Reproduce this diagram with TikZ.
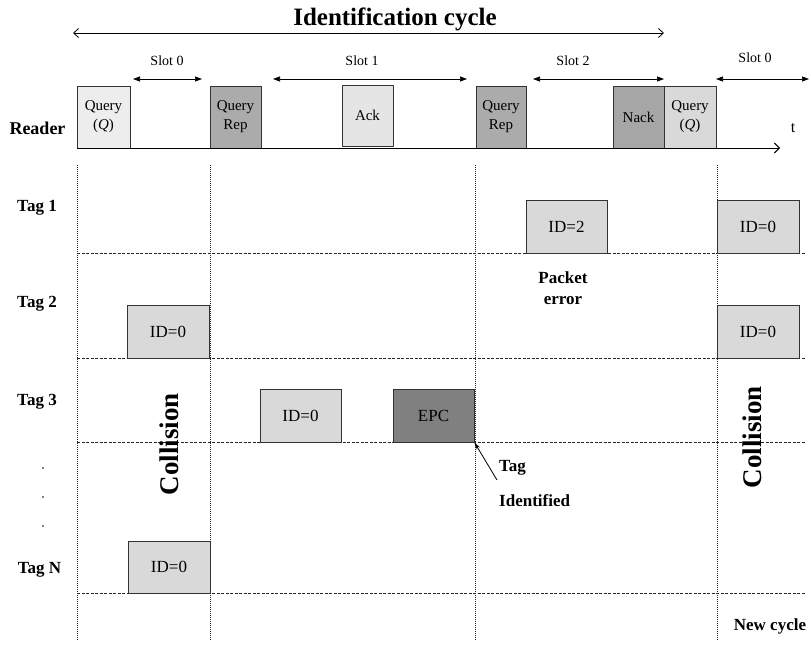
\documentclass[tikz,border=0pt]{standalone}
\usepackage{fontspec}
\setmainfont{Liberation Serif}
\usetikzlibrary{arrows.meta}
\begin{document}
\begin{tikzpicture}[x=1pt,y=-1pt,
  box/.style={draw=black!80, line width=0.9pt, inner sep=0pt, align=center, font=\fontsize{15}{19}\selectfont},
  idbox/.style={box, minimum width=81pt, minimum height=53pt, fill=black!15, font=\fontsize{17}{19}\selectfont},
  rbox/.style={box, minimum width=51pt, minimum height=62pt},
  lbl/.style={font=\bfseries\fontsize{17}{21}\selectfont, inner sep=0pt, align=center},
  slotlbl/.style={font=\fontsize{14}{16}\selectfont, inner sep=0pt},
  vgrid/.style={dash pattern=on 1pt off 1pt, line width=0.7pt, black!85},
  hgrid/.style={dash pattern=on 3pt off 1.5pt, line width=0.8pt, black!85},
  slotarr/.style={{Triangle[length=7pt,width=5pt]}-{Triangle[length=7pt,width=5pt]}, line width=0.7pt},
  barb/.style={{Straight Barb[length=5pt,width=9pt]}-{Straight Barb[length=5pt,width=9pt]}, line width=0.8pt},
]
\useasboundingbox (0,0) rectangle (812,646);

% grid
\foreach \xx in {77,210,475,717} {\draw[vgrid] (\xx,165) -- (\xx,640);}
\foreach \yy in {253,358,442,593} {\draw[hgrid] (77,\yy) -- (805,\yy);}

% title and cycle arrow
\node[font=\bfseries\fontsize{25}{28}\selectfont, inner sep=0pt] (title) at (395,19) {Identification cycle};
\coordinate (ic1) at (73,33);
\coordinate (ic2) at (664,33);
\draw[barb] (ic1) -- (ic2);

% slot arrows
\coordinate (s0a) at (133,79); \coordinate (s0b) at (202,79);
\coordinate (s1a) at (273,79); \coordinate (s1b) at (467,79);
\coordinate (s2a) at (533,79); \coordinate (s2b) at (664,79);
\coordinate (s3a) at (716,79); \coordinate (s3b) at (809,79);
\draw[slotarr] (s0a) -- (s0b);
\draw[slotarr] (s1a) -- (s1b);
\draw[slotarr] (s2a) -- (s2b);
\draw[slotarr] (s3a) -- (s3b);
\node[slotlbl] (l0) at (167,61) {Slot 0};
\node[slotlbl] (l1) at (362,61) {Slot 1};
\node[slotlbl] (l2) at (573,61) {Slot 2};
\node[slotlbl] (l3) at (755,58) {Slot 0};

% reader boxes
\node[rbox, minimum width=53pt, fill=black!7] (q1) at (103.5,117) {Query\\(\textit{Q})};
\node[rbox, fill=black!33] (qr1) at (235.5,117) {Query\\Rep};
\node[rbox, minimum height=61pt, fill=black!10] (ack) at (367.5,115.5) {Ack};
\node[rbox, minimum width=50pt, fill=black!33] (qr2) at (501,117) {Query\\Rep};
\node[rbox, fill=black!35] (nack) at (638.5,117) {Nack};
\node[rbox, minimum width=52pt, fill=black!15] (q2) at (690,117) {Query\\(\textit{Q})};

% timeline
\coordinate (t0) at (77,148);
\coordinate (t1) at (780,148);
\draw[line width=1pt, -{Straight Barb[length=5pt,width=10pt]}] (t0) -- (t1);
\node[font=\fontsize{16}{18}\selectfont, inner sep=0pt] (tt) at (793,128) {t};

% row labels
\node[lbl, font=\bfseries\fontsize{18}{21}\selectfont] (reader) at (37.5,128) {Reader};
\node[lbl] (tag1) at (37,208) {Tag 1};
\node[lbl] (tag2) at (37,304) {Tag 2};
\node[lbl] (tag3) at (37,402) {Tag 3};
\node[lbl] (tagN) at (39.5,570) {Tag N};
\foreach \yy in {468,497,526} {\fill (43,\yy) circle (0.9pt);}

% tag boxes
\node[idbox] (t1a) at (566.5,226.5) {ID=2};
\node[idbox, minimum width=82pt] (t1b) at (758,226.5) {ID=0};
\node[idbox, minimum width=82pt] (t2a) at (168,331.5) {ID=0};
\node[idbox, minimum width=82pt] (t2b) at (758,331.5) {ID=0};
\node[idbox] (t3a) at (300.5,415.5) {ID=0};
\node[idbox, fill=black!50] (epc) at (433.5,415.5) {EPC};
\node[idbox, minimum width=82pt, minimum height=52pt] (tNa) at (169,567) {ID=0};

% annotations
\node[font=\bfseries\fontsize{27}{30}\selectfont, inner sep=0pt, rotate=90] (col1) at (169,444) {Collision};
\node[font=\bfseries\fontsize{27}{30}\selectfont, inner sep=0pt, rotate=90] (col2) at (752,437) {Collision};
\node[lbl] (perr) at (563,288) {Packet\\error};
\node[lbl, anchor=west] (tagw) at (499,468) {Tag};
\node[lbl, anchor=west] (ident) at (499,501) {Identified};
\coordinate (tagtail) at (497,480);
\draw[line width=0.8pt, -{Stealth[length=7pt,width=4pt]}] (tagtail) -- (epc.south east);
\node[lbl] (newc) at (770,626) {New cycle};

\end{tikzpicture}
\end{document}
